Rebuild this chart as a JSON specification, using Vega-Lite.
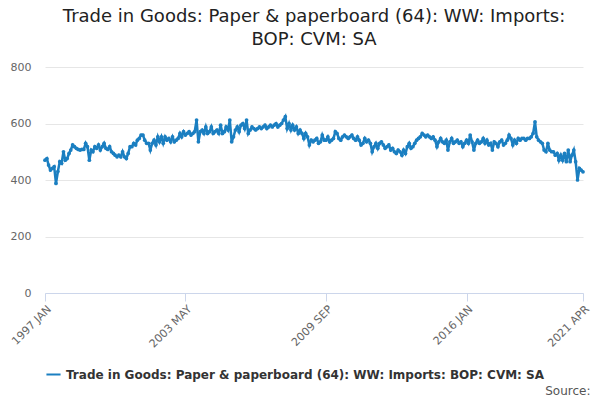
{
  "$schema": "https://vega.github.io/schema/vega-lite/v6.json",
  "autosize": "none",
  "width": 538,
  "height": 226,
  "padding": {"left": 45, "top": 67, "right": 17, "bottom": 107},
  "title": {
    "text": ["Trade in Goods: Paper & paperboard (64): WW: Imports:", "BOP: CVM: SA"],
    "fontSize": 18, "font": "DejaVu Sans", "fontWeight": "normal", "color": "#222",
    "anchor": "middle", "offset": 12, "lineHeight": 23
  },
  "data": {"values": [
    {"d":"1997-01","v":470},{"d":"1997-02","v":476},{"d":"1997-03","v":453},{"d":"1997-04","v":435},{"d":"1997-05","v":441},{"d":"1997-06","v":447},{"d":"1997-07","v":388},{"d":"1997-08","v":430},{"d":"1997-09","v":465},{"d":"1997-10","v":459},{"d":"1997-11","v":500},{"d":"1997-12","v":470},
    {"d":"1998-01","v":476},{"d":"1998-02","v":494},{"d":"1998-03","v":506},{"d":"1998-04","v":524},{"d":"1998-05","v":518},{"d":"1998-06","v":512},{"d":"1998-07","v":508},{"d":"1998-08","v":506},{"d":"1998-09","v":508},{"d":"1998-10","v":508},{"d":"1998-11","v":530},{"d":"1998-12","v":518},
    {"d":"1999-01","v":470},{"d":"1999-02","v":506},{"d":"1999-03","v":500},{"d":"1999-04","v":518},{"d":"1999-05","v":512},{"d":"1999-06","v":524},{"d":"1999-07","v":506},{"d":"1999-08","v":518},{"d":"1999-09","v":530},{"d":"1999-10","v":512},{"d":"1999-11","v":508},{"d":"1999-12","v":518},
    {"d":"2000-01","v":500},{"d":"2000-02","v":494},{"d":"2000-03","v":488},{"d":"2000-04","v":482},{"d":"2000-05","v":488},{"d":"2000-06","v":482},{"d":"2000-07","v":500},{"d":"2000-08","v":482},{"d":"2000-09","v":476},{"d":"2000-10","v":494},{"d":"2000-11","v":518},{"d":"2000-12","v":518},
    {"d":"2001-01","v":530},{"d":"2001-02","v":524},{"d":"2001-03","v":541},{"d":"2001-04","v":547},{"d":"2001-05","v":559},{"d":"2001-06","v":559},{"d":"2001-07","v":541},{"d":"2001-08","v":530},{"d":"2001-09","v":530},{"d":"2001-10","v":506},{"d":"2001-11","v":530},{"d":"2001-12","v":541},
    {"d":"2002-01","v":524},{"d":"2002-02","v":553},{"d":"2002-03","v":535},{"d":"2002-04","v":553},{"d":"2002-05","v":530},{"d":"2002-06","v":553},{"d":"2002-07","v":541},{"d":"2002-08","v":547},{"d":"2002-09","v":535},{"d":"2002-10","v":553},{"d":"2002-11","v":535},{"d":"2002-12","v":541},
    {"d":"2003-01","v":547},{"d":"2003-02","v":565},{"d":"2003-03","v":553},{"d":"2003-04","v":571},{"d":"2003-05","v":559},{"d":"2003-06","v":565},{"d":"2003-07","v":571},{"d":"2003-08","v":559},{"d":"2003-09","v":565},{"d":"2003-10","v":571},{"d":"2003-11","v":612},{"d":"2003-12","v":535},
    {"d":"2004-01","v":571},{"d":"2004-02","v":577},{"d":"2004-03","v":565},{"d":"2004-04","v":588},{"d":"2004-05","v":565},{"d":"2004-06","v":571},{"d":"2004-07","v":588},{"d":"2004-08","v":565},{"d":"2004-09","v":571},{"d":"2004-10","v":577},{"d":"2004-11","v":565},{"d":"2004-12","v":594},
    {"d":"2005-01","v":565},{"d":"2005-02","v":571},{"d":"2005-03","v":588},{"d":"2005-04","v":577},{"d":"2005-05","v":612},{"d":"2005-06","v":535},{"d":"2005-07","v":553},{"d":"2005-08","v":577},{"d":"2005-09","v":588},{"d":"2005-10","v":571},{"d":"2005-11","v":594},{"d":"2005-12","v":600},
    {"d":"2006-01","v":582},{"d":"2006-02","v":612},{"d":"2006-03","v":565},{"d":"2006-04","v":577},{"d":"2006-05","v":588},{"d":"2006-06","v":582},{"d":"2006-07","v":577},{"d":"2006-08","v":582},{"d":"2006-09","v":588},{"d":"2006-10","v":582},{"d":"2006-11","v":588},{"d":"2006-12","v":594},
    {"d":"2007-01","v":582},{"d":"2007-02","v":588},{"d":"2007-03","v":594},{"d":"2007-04","v":588},{"d":"2007-05","v":594},{"d":"2007-06","v":600},{"d":"2007-07","v":588},{"d":"2007-08","v":594},{"d":"2007-09","v":600},{"d":"2007-10","v":612},{"d":"2007-11","v":624},{"d":"2007-12","v":582},
    {"d":"2008-01","v":600},{"d":"2008-02","v":577},{"d":"2008-03","v":594},{"d":"2008-04","v":577},{"d":"2008-05","v":588},{"d":"2008-06","v":565},{"d":"2008-07","v":577},{"d":"2008-08","v":565},{"d":"2008-09","v":547},{"d":"2008-10","v":565},{"d":"2008-11","v":553},{"d":"2008-12","v":524},
    {"d":"2009-01","v":541},{"d":"2009-02","v":535},{"d":"2009-03","v":541},{"d":"2009-04","v":547},{"d":"2009-05","v":530},{"d":"2009-06","v":535},{"d":"2009-07","v":559},{"d":"2009-08","v":541},{"d":"2009-09","v":541},{"d":"2009-10","v":553},{"d":"2009-11","v":535},{"d":"2009-12","v":541},
    {"d":"2010-01","v":547},{"d":"2010-02","v":571},{"d":"2010-03","v":565},{"d":"2010-04","v":547},{"d":"2010-05","v":541},{"d":"2010-06","v":553},{"d":"2010-07","v":559},{"d":"2010-08","v":553},{"d":"2010-09","v":547},{"d":"2010-10","v":553},{"d":"2010-11","v":559},{"d":"2010-12","v":547},
    {"d":"2011-01","v":541},{"d":"2011-02","v":553},{"d":"2011-03","v":541},{"d":"2011-04","v":524},{"d":"2011-05","v":530},{"d":"2011-06","v":547},{"d":"2011-07","v":535},{"d":"2011-08","v":541},{"d":"2011-09","v":530},{"d":"2011-10","v":500},{"d":"2011-11","v":518},{"d":"2011-12","v":530},
    {"d":"2012-01","v":512},{"d":"2012-02","v":530},{"d":"2012-03","v":535},{"d":"2012-04","v":524},{"d":"2012-05","v":512},{"d":"2012-06","v":518},{"d":"2012-07","v":524},{"d":"2012-08","v":506},{"d":"2012-09","v":512},{"d":"2012-10","v":500},{"d":"2012-11","v":494},{"d":"2012-12","v":506},
    {"d":"2013-01","v":500},{"d":"2013-02","v":488},{"d":"2013-03","v":506},{"d":"2013-04","v":494},{"d":"2013-05","v":518},{"d":"2013-06","v":530},{"d":"2013-07","v":512},{"d":"2013-08","v":518},{"d":"2013-09","v":530},{"d":"2013-10","v":541},{"d":"2013-11","v":547},{"d":"2013-12","v":553},
    {"d":"2014-01","v":565},{"d":"2014-02","v":559},{"d":"2014-03","v":553},{"d":"2014-04","v":559},{"d":"2014-05","v":553},{"d":"2014-06","v":547},{"d":"2014-07","v":553},{"d":"2014-08","v":541},{"d":"2014-09","v":518},{"d":"2014-10","v":535},{"d":"2014-11","v":547},{"d":"2014-12","v":535},
    {"d":"2015-01","v":530},{"d":"2015-02","v":541},{"d":"2015-03","v":506},{"d":"2015-04","v":535},{"d":"2015-05","v":547},{"d":"2015-06","v":530},{"d":"2015-07","v":535},{"d":"2015-08","v":541},{"d":"2015-09","v":530},{"d":"2015-10","v":535},{"d":"2015-11","v":518},{"d":"2015-12","v":530},
    {"d":"2016-01","v":541},{"d":"2016-02","v":530},{"d":"2016-03","v":559},{"d":"2016-04","v":535},{"d":"2016-05","v":506},{"d":"2016-06","v":530},{"d":"2016-07","v":541},{"d":"2016-08","v":530},{"d":"2016-09","v":535},{"d":"2016-10","v":547},{"d":"2016-11","v":530},{"d":"2016-12","v":541},
    {"d":"2017-01","v":524},{"d":"2017-02","v":530},{"d":"2017-03","v":506},{"d":"2017-04","v":535},{"d":"2017-05","v":530},{"d":"2017-06","v":518},{"d":"2017-07","v":535},{"d":"2017-08","v":541},{"d":"2017-09","v":524},{"d":"2017-10","v":530},{"d":"2017-11","v":541},{"d":"2017-12","v":559},
    {"d":"2018-01","v":547},{"d":"2018-02","v":524},{"d":"2018-03","v":541},{"d":"2018-04","v":530},{"d":"2018-05","v":547},{"d":"2018-06","v":541},{"d":"2018-07","v":547},{"d":"2018-08","v":547},{"d":"2018-09","v":541},{"d":"2018-10","v":547},{"d":"2018-11","v":547},{"d":"2018-12","v":553},
    {"d":"2019-01","v":565},{"d":"2019-02","v":606},{"d":"2019-03","v":553},{"d":"2019-04","v":541},{"d":"2019-05","v":535},{"d":"2019-06","v":530},{"d":"2019-07","v":506},{"d":"2019-08","v":500},{"d":"2019-09","v":530},{"d":"2019-10","v":506},{"d":"2019-11","v":500},{"d":"2019-12","v":500},
    {"d":"2020-01","v":488},{"d":"2020-02","v":494},{"d":"2020-03","v":470},{"d":"2020-04","v":488},{"d":"2020-05","v":470},{"d":"2020-06","v":494},{"d":"2020-07","v":465},{"d":"2020-08","v":506},{"d":"2020-09","v":465},{"d":"2020-10","v":488},{"d":"2020-11","v":506},{"d":"2020-12","v":465},
    {"d":"2021-01","v":400},{"d":"2021-02","v":441},{"d":"2021-03","v":435},{"d":"2021-04","v":429}
  ]},
  "mark": {"type": "line", "color": "#1b7fc1", "strokeWidth": 2.5, "point": {"filled": true, "size": 14, "color": "#1b7fc1"}},
  "encoding": {
    "x": {
      "field": "d", "type": "temporal", "timeUnit": "utcyearmonth",
      "scale": {"domain": [{"year": 1997, "month": 1, "utc": true}, {"year": 2021, "month": 4, "utc": true}]},
      "axis": {
        "values": [
          {"year": 1997, "month": 1, "utc": true},
          {"year": 2003, "month": 5, "utc": true},
          {"year": 2009, "month": 9, "utc": true},
          {"year": 2016, "month": 1, "utc": true},
          {"year": 2021, "month": 4, "utc": true}
        ],
        "labelExpr": "upper(utcFormat(datum.value, '%Y %b'))",
        "labelAngle": -45, "labelAlign": "right", "labelBaseline": "top",
        "labelFontSize": 11, "labelColor": "#666", "labelFont": "DejaVu Sans",
        "grid": false, "domainColor": "#ccd6eb", "tickColor": "#ccd6eb", "tickSize": 8,
        "labelOverlap": false,
        "title": "Source:", "titleFontSize": 12, "titleFontWeight": "normal", "titleColor": "#555",
        "titleFont": "DejaVu Sans", "titleAnchor": "end", "titleAlign": "right", "titleX": 545, "titleY": 92
      }
    },
    "y": {
      "field": "v", "type": "quantitative",
      "scale": {"domain": [0, 800]},
      "axis": {
        "values": [0, 200, 400, 600, 800], "title": null, "domain": false, "ticks": false,
        "labelFontSize": 11, "labelColor": "#666", "labelFont": "DejaVu Sans", "labelPadding": 14,
        "gridColor": "#e6e6e6"
      }
    },
    "color": {
      "datum": "Trade in Goods: Paper & paperboard (64): WW: Imports: BOP: CVM: SA",
      "type": "nominal",
      "scale": {"range": ["#1b7fc1"]},
      "legend": {
        "title": null, "orient": "none", "legendX": 0, "legendY": 299,
        "labelFontSize": 12, "labelFontWeight": "bold", "labelColor": "#333", "labelFont": "DejaVu Sans",
        "symbolType": "stroke", "symbolStrokeWidth": 2, "symbolSize": 200, "labelLimit": 600
      }
    }
  },
  "config": {"view": {"stroke": null}}
}
